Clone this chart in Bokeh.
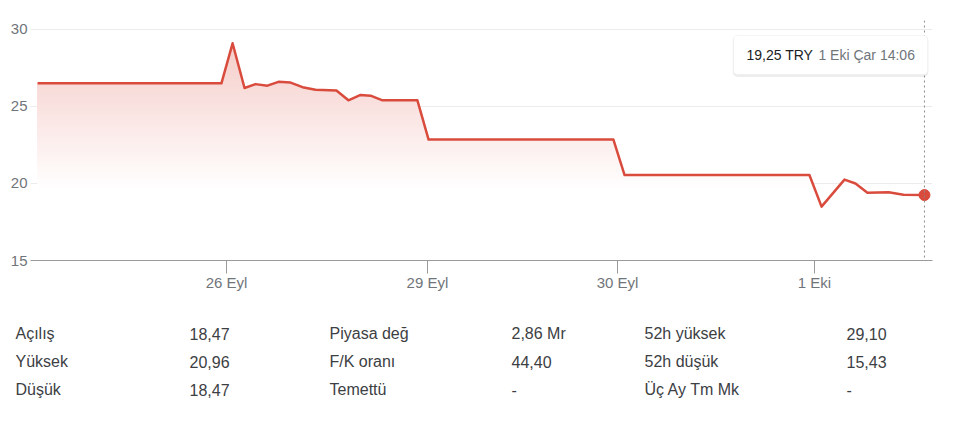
import numpy as np
from bokeh.plotting import figure
from bokeh.models import (Range1d, FixedTicker, Span, BoxAnnotation, Label, LabelSet,
                          ColumnDataSource)
from bokeh.layouts import column, row
from bokeh.embed import file_html
from bokeh.resources import INLINE
from bokeh.core.properties import value

# ---------------- data ----------------
# x: trading-session position in day units (0 = 25 Eyl, 1 = 26 Eyl, 2 = 29 Eyl, 3 = 30 Eyl, 4 = 1 Eki)
session_x = [0.036, 0.974, 1.031, 1.092, 1.148, 1.209, 1.265, 1.327, 1.388, 1.454,
             1.561, 1.622, 1.684, 1.735, 1.796, 1.974, 2.031, 2.974, 3.031, 3.974,
             4.036, 4.153, 4.209, 4.270, 4.378, 4.454, 4.561]
price = [26.5, 26.5, 29.1, 26.2, 26.45, 26.35, 26.6, 26.55, 26.25, 26.08,
         26.04, 25.4, 25.75, 25.7, 25.4, 25.4, 22.85, 22.85, 20.55, 20.55,
         18.5, 20.25, 20.0, 19.4, 19.43, 19.27, 19.25]

x_tick_pos = [1.0, 2.025, 2.995, 4.0]
x_tick_labels = ["26 Eyl", "29 Eyl", "30 Eyl", "1 Eki"]
y_ticks = [15, 20, 25, 30]

currency = "TRY"
tooltip_time = "1 Eki Çar 14:06"

stat_labels_1 = ["Açılış", "Yüksek", "Düşük"]
stat_values_1 = ["18,47", "20,96", "18,47"]
stat_labels_2 = ["Piyasa değ", "F/K oranı", "Temettü"]
stat_values_2 = ["2,86 Mr", "44,40", "-"]
stat_labels_3 = ["52h yüksek", "52h düşük", "Üç Ay Tm Mk"]
stat_values_3 = ["29,10", "15,43", "-"]

# ---------------- styles ----------------
FONT = "Liberation Sans"
RED = "#d94b3d"
RED_RGB = (219, 76, 63)
AXIS_TEXT = "#70757a"
TABLE_TEXT = "#3c4043"

W = 952
BL, BR = 30, 20          # frame borders (left / right)
p = figure(width=W, height=300, output_backend="svg", toolbar_location=None,
           x_range=Range1d(0, 4.602), y_range=Range1d(15, 30.58),
           min_border_left=BL, min_border_right=BR, min_border_top=20,
           min_border_bottom=40)
p.outline_line_color = None
p.background_fill_color = "white"

# grid
p.xgrid.visible = False
p.ygrid.ticker = FixedTicker(ticks=y_ticks)
p.ygrid.grid_line_color = "#ececec"
p.ygrid.grid_line_width = 1

# y axis
p.yaxis.ticker = FixedTicker(ticks=y_ticks)
p.yaxis.axis_line_color = None
p.yaxis.major_tick_line_color = None
p.yaxis.major_tick_in = 0
p.yaxis.major_tick_out = 0
p.yaxis.minor_tick_line_color = None
p.yaxis.minor_tick_in = 0
p.yaxis.minor_tick_out = 0
p.yaxis.major_label_standoff = 3
p.yaxis.major_label_text_font = FONT
p.yaxis.major_label_text_font_size = "15px"
p.yaxis.major_label_text_color = AXIS_TEXT

# x axis
p.xaxis.ticker = FixedTicker(ticks=x_tick_pos)
p.xaxis.major_label_overrides = {k: v for k, v in zip(x_tick_pos, x_tick_labels)}
p.xaxis.axis_line_color = "#9a9a9a"
p.xaxis.axis_line_width = 1
p.xaxis.major_tick_line_color = "#9a9a9a"
p.xaxis.major_tick_in = 0
p.xaxis.major_tick_out = 13
p.xaxis.minor_tick_line_color = None
p.xaxis.major_label_standoff = 0
p.xaxis.major_label_text_font = FONT
p.xaxis.major_label_text_font_size = "15px"
p.xaxis.major_label_text_color = AXIS_TEXT

# gradient fill under the line: stacked opaque layers, each from its level up to the line.
# The line is resampled finely (rendering only) so each layer's top follows the line exactly.
px = np.array(session_x)
py = np.array(price)
fx = np.union1d(px, np.linspace(px[0], px[-1], 3000))
fy = np.interp(fx, px, py)
g_lo, g_hi, g_alpha = 19.5, 29.6, 0.30
levels = np.arange(g_lo, py.max(), 0.17)
for lv in levels:
    a = g_alpha * min(max((lv - g_lo) / (g_hi - g_lo), 0), 1)
    col = tuple(int(round(255 * (1 - a) + c * a)) for c in RED_RGB)
    p.varea(x=fx, y1=lv, y2=np.maximum(fy, lv), fill_color="#%02x%02x%02x" % col,
            fill_alpha=1.0)

# line + last dot
p.line(px, py, line_color=RED, line_width=2.5, line_join="round")
p.scatter([px[-1]], [py[-1]], size=11, fill_color=RED, line_color=RED)

# crosshair
p.add_layout(Span(location=px[-1], dimension="height", line_color="#8a8a8a",
                  line_dash="2 3", line_width=1))

# tooltip box
box_l, box_r = px[-1] - 0.974, px[-1] + 0.016
box_t, box_b = 29.61, 27.08
p.add_layout(BoxAnnotation(left=box_l - 0.004, right=box_r + 0.004, top=box_t - 0.02,
                           bottom=box_b - 0.16, fill_color="black", fill_alpha=0.07,
                           line_color=None, border_radius=5))
p.add_layout(BoxAnnotation(left=box_l, right=box_r, top=box_t, bottom=box_b,
                           fill_color="white", fill_alpha=1.0, line_color="#e3e3e3",
                           line_width=1, border_radius=4))
price_txt = ("%.2f" % py[-1]).replace(".", ",") + " " + currency
mid_y = (box_t + box_b) / 2
p.add_layout(Label(x=px[-1] - 0.908, y=mid_y, text=price_txt, text_font=FONT,
                   text_font_size="14px", text_color="#202124",
                   text_baseline="middle", text_align="left"))
p.add_layout(Label(x=px[-1] - 0.541, y=mid_y, text=tooltip_time, text_font=FONT,
                   text_font_size="14px", text_color=AXIS_TEXT,
                   text_baseline="middle", text_align="left"))

# ---------------- stats table ----------------
# frame covers the whole table figure; x/y ranges are in pixels
TH = 110
t = figure(width=W, height=TH, output_backend="svg", toolbar_location=None,
           x_range=Range1d(0, W), y_range=Range1d(TH, 0),
           x_axis_location=None, y_axis_location=None,
           min_border_left=0, min_border_right=0, min_border_top=0,
           min_border_bottom=0)
t.outline_line_color = None
t.xgrid.visible = False
t.ygrid.visible = False

row_y = [33, 61, 89]
col_x = [15, 189, 329, 511, 644, 846]
columns = [stat_labels_1, stat_values_1, stat_labels_2, stat_values_2,
           stat_labels_3, stat_values_3]
for cx, texts in zip(col_x, columns):
    t.text(x=[cx] * len(texts), y=row_y, text=texts, text_font=value(FONT),
           text_font_size="16px", text_color=TABLE_TEXT, text_baseline="middle",
           text_align="left")

layout = column(p, row(t), spacing=0)
open("out.html", "w").write(file_html(layout, INLINE))
